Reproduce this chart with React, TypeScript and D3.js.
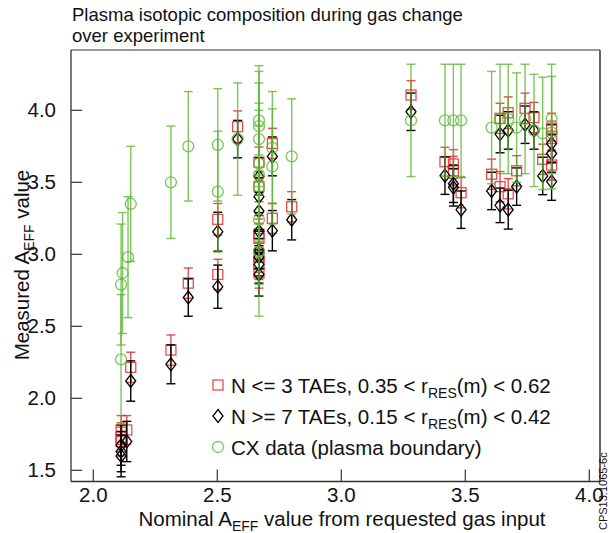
import React from "react";
import * as d3 from "d3";

const xTicks = [2.0, 2.5, 3.0, 3.5, 4.0];
const yTicks = [1.5, 2.0, 2.5, 3.0, 3.5, 4.0];

// N <= 3 TAEs (red squares)
const redX = [2.112, 2.112, 2.112, 2.135, 2.151, 2.313, 2.383, 2.502, 2.502, 2.582, 2.668, 2.668, 2.668, 2.668, 2.668, 2.668, 2.668, 2.722, 2.722, 2.8, 3.281, 3.418, 3.452, 3.452, 3.483, 3.606, 3.64, 3.64, 3.673, 3.673, 3.707, 3.741, 3.777, 3.812, 3.848, 3.848, 3.848];
const redY = [1.78, 1.73, 1.7, 1.78, 2.215, 2.335, 2.8, 3.243, 2.86, 3.886, 3.64, 3.47, 3.14, 3.11, 2.98, 2.93, 2.87, 3.77, 3.25, 3.33, 4.106, 3.643, 3.627, 3.58, 3.428, 3.556, 3.944, 3.47, 3.983, 3.42, 3.58, 4.014, 3.95, 3.66, 3.875, 3.82, 3.62];
const redErr = [0.1, 0.1, 0.1, 0.1, 0.105, 0.105, 0.105, 0.11, 0.105, 0.11, 0.105, 0.105, 0.105, 0.105, 0.105, 0.105, 0.105, 0.105, 0.105, 0.105, 0.1, 0.1, 0.1, 0.1, 0.105, 0.105, 0.105, 0.105, 0.11, 0.105, 0.105, 0.105, 0.105, 0.105, 0.105, 0.105, 0.105];

// N >= 7 TAEs (black diamonds)
const blackX = [2.112, 2.112, 2.112, 2.135, 2.151, 2.313, 2.383, 2.502, 2.502, 2.582, 2.668, 2.668, 2.668, 2.668, 2.668, 2.668, 2.668, 2.668, 2.722, 2.722, 2.8, 3.281, 3.418, 3.452, 3.452, 3.483, 3.606, 3.64, 3.64, 3.673, 3.673, 3.707, 3.741, 3.777, 3.812, 3.848, 3.848, 3.848];
const blackY = [1.6, 1.63, 1.675, 1.7, 2.12, 2.236, 2.7, 3.157, 2.775, 3.8, 3.54, 3.4, 3.3, 3.16, 3.03, 2.98, 2.93, 2.86, 3.68, 3.164, 3.24, 3.99, 3.546, 3.49, 3.465, 3.31, 3.44, 3.835, 3.34, 3.86, 3.31, 3.47, 3.9, 3.86, 3.544, 3.77, 3.7, 3.505];
const blackErr = [0.145, 0.14, 0.14, 0.14, 0.14, 0.135, 0.13, 0.135, 0.15, 0.13, 0.13, 0.13, 0.13, 0.13, 0.13, 0.13, 0.13, 0.15, 0.135, 0.14, 0.14, 0.13, 0.13, 0.13, 0.13, 0.13, 0.13, 0.13, 0.12, 0.13, 0.135, 0.13, 0.13, 0.13, 0.13, 0.13, 0.13, 0.13];

// CX data (green circles)
const greenX = [2.112, 2.112, 2.118, 2.14, 2.151, 2.313, 2.383, 2.502, 2.502, 2.582, 2.668, 2.668, 2.668, 2.668, 2.668, 2.668, 2.668, 2.668, 2.722, 2.722, 2.8, 3.281, 3.418, 3.452, 3.483, 3.606, 3.64, 3.673, 3.707, 3.741, 3.777, 3.812, 3.848, 3.848];
const greenY = [2.27, 2.79, 2.87, 2.98, 3.35, 3.5, 3.75, 3.76, 3.435, 3.8, 3.93, 3.89, 3.8, 3.63, 3.55, 3.47, 3.24, 3.02, 3.74, 3.61, 3.68, 3.93, 3.93, 3.93, 3.93, 3.88, 3.94, 3.94, 3.88, 3.94, 3.86, 3.84, 3.94, 3.845];
const greenErr = [0.45, 0.42, 0.42, 0.42, 0.4, 0.39, 0.38, 0.39, 0.42, 0.39, 0.38, 0.38, 0.39, 0.42, 0.45, 0.42, 0.45, 0.45, 0.39, 0.4, 0.4, 0.39, 0.39, 0.39, 0.39, 0.39, 0.38, 0.38, 0.38, 0.38, 0.39, 0.39, 0.38, 0.39];

const legendLabels = ["N <= 3 TAEs, 0.35 < r", "N >= 7 TAEs, 0.15 < r", "CX data (plasma boundary)"];
const legendTails = ["(m) < 0.62", "(m) < 0.42", ""];

const FONT = "'Liberation Sans', Arial, Helvetica, sans-serif";
const RED = "rgba(232,30,30,0.8)";
const BLACK = "#000";
const GREEN = "rgba(88,182,46,0.78)";

function Marker({ kind, cx, cy, color }: { kind: string; cx: number; cy: number; color: string }) {
  if (kind === "square") return <rect x={cx - 5} y={cy - 5} width={10} height={10} fill="none" stroke={color} strokeWidth={1.3} />;
  if (kind === "diamond") return <path d={`M${cx},${cy - 6.5}L${cx + 5},${cy}L${cx},${cy + 6.5}L${cx - 5},${cy}Z`} fill="none" stroke={color} strokeWidth={1.3} />;
  return <circle cx={cx} cy={cy} r={5.5} fill="none" stroke={color} strokeWidth={1.3} />;
}

export default function App() {
  const W = 609, H = 533;
  const left = 71, right = 600, top = 50, bottom = 481.5;
  const x = d3.scaleLinear().domain([1.9101, 4.0431]).range([left, right]);
  const y = d3.scaleLinear().domain([1.4222, 4.4188]).range([bottom, top]);

  const series = [
    { xs: redX, ys: redY, es: redErr, color: RED, kind: "square" },
    { xs: blackX, ys: blackY, es: blackErr, color: BLACK, kind: "diamond" },
    { xs: greenX, ys: greenY, es: greenErr, color: GREEN, kind: "circle" },
  ];

  const cap = 4.5;

  return (
    <svg width={W} height={H} style={{ position: "absolute", left: 0, top: 0, background: "#fff" }} fontFamily={FONT}>
      <rect x={0} y={0} width={W} height={H} fill="#fff" />
      <text x={72} y={21} fontSize={18.5} fill="#111">Plasma isotopic composition during gas change</text>
      <text x={72} y={42} fontSize={18.5} fill="#111">over experiment</text>

      {/* frame */}
      <line x1={left} y1={top} x2={right} y2={top} stroke="#777" strokeWidth={1.3} />
      <line x1={right} y1={top} x2={right} y2={bottom} stroke="#111" strokeWidth={1.3} />
      <line x1={left} y1={top} x2={left} y2={bottom} stroke="#333" strokeWidth={1.3} />
      <line x1={left} y1={bottom} x2={right} y2={bottom} stroke="#333" strokeWidth={1.3} />

      {xTicks.map((t) => (
        <g key={"xt" + t}>
          <line x1={x(t)} x2={x(t)} y1={bottom} y2={bottom - 12} stroke="#333" strokeWidth={1.2} />
          <text x={x(t)} y={bottom + 20} fontSize={20.5} textAnchor="middle" fill="#111">{t.toFixed(1)}</text>
        </g>
      ))}
      {yTicks.map((t) => (
        <g key={"yt" + t}>
          <line x1={left} x2={left + 11} y1={y(t)} y2={y(t)} stroke="#333" strokeWidth={1.2} />
          <text x={56} y={y(t) + 7} fontSize={20.5} textAnchor="end" fill="#111">{t.toFixed(1)}</text>
        </g>
      ))}

      {/* axis titles */}
      <text x={342} y={526} fontSize={20.5} textAnchor="middle" fill="#111">
        Nominal A<tspan fontSize={14} dy={5}>EFF</tspan><tspan dy={-5}> value from requested gas input</tspan>
      </text>
      <text transform="translate(29,265) rotate(-90)" fontSize={20.5} textAnchor="middle" fill="#111">
        Measured A<tspan fontSize={14} dy={5}>EFF</tspan><tspan dy={-5}> value</tspan>
      </text>

      {/* data */}
      {series.map((s, si) => (
        <g key={"s" + si}>
          {s.xs.map((xv, i) => {
            const cx = x(xv);
            const y1 = y(s.ys[i] - s.es[i]);
            const y2 = y(s.ys[i] + s.es[i]);
            return (
              <g key={i} stroke={s.color} strokeWidth={1.4}>
                <line x1={cx} x2={cx} y1={y1} y2={y2} />
                <line x1={cx - cap} x2={cx + cap} y1={y1} y2={y1} />
                <line x1={cx - cap} x2={cx + cap} y1={y2} y2={y2} />
              </g>
            );
          })}
          {s.xs.map((xv, i) => (
            <Marker key={"m" + i} kind={s.kind} cx={x(xv)} cy={y(s.ys[i])} color={s.color} />
          ))}
        </g>
      ))}

      {/* legend */}
      {series.map((s, i) => {
        const cy = 385 + i * 31;
        return (
          <g key={"lg" + i}>
            <Marker kind={s.kind} cx={218} cy={cy} color={s.color} />
            <text x={231} y={cy + 7.5} fontSize={20.5} fill="#111">
              {legendLabels[i]}
              {legendTails[i] && <tspan fontSize={14} dy={5}>RES</tspan>}
              {legendTails[i] && <tspan dy={-5}>{legendTails[i]}</tspan>}
            </text>
          </g>
        );
      })}

      <text transform="translate(606.5,530) rotate(-90)" fontSize={11} fill="#111">CPS13.1065-6c</text>
    </svg>
  );
}
